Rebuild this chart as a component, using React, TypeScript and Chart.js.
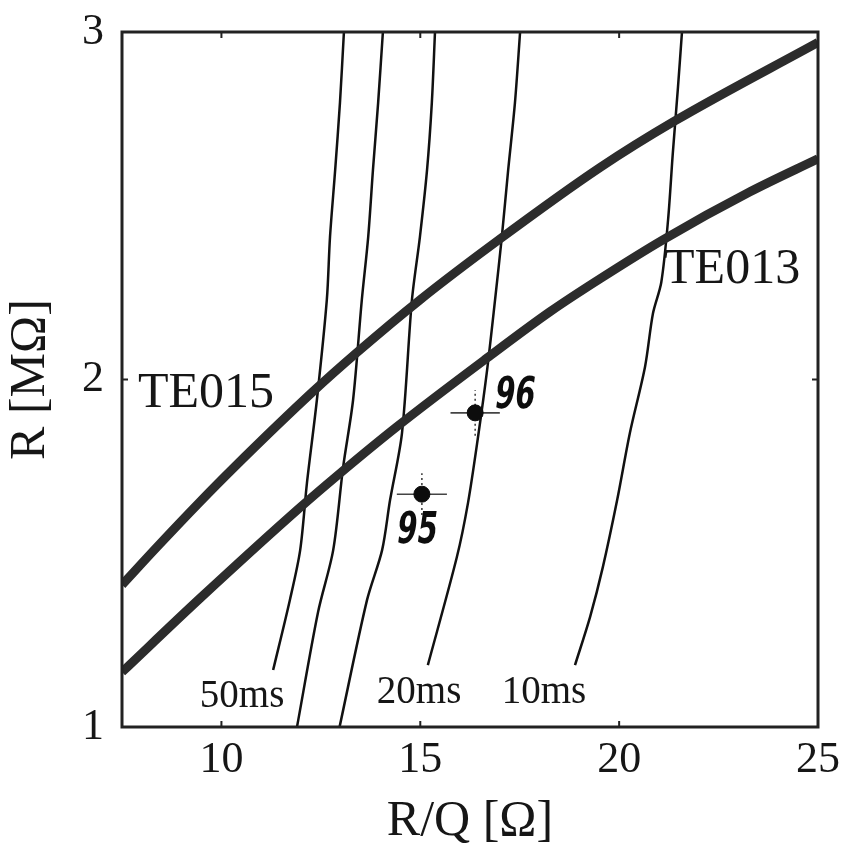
import React, { useEffect, useRef } from 'react';
import { Chart, registerables } from 'chart.js';

Chart.register(...registerables);

// ---- axis ticks ----
const X_TICKS = [10, 15, 20, 25];
const Y_TICKS = [1, 2, 3];

// ---- thick mode curves ----
const TE015_X = [7.5, 8.38, 9.46, 10.29, 12.30, 13.41, 14.99, 16.95, 19.52, 21.40, 25.0];
const TE015_Y = [1.409, 1.518, 1.648, 1.744, 1.965, 2.078, 2.229, 2.400, 2.610, 2.744, 2.97];

const TE013_X = [7.5, 9.46, 11.98, 12.98, 14.41, 16.68, 18.26, 19.52, 21.10, 23.29, 25.0];
const TE013_Y = [1.158, 1.370, 1.632, 1.730, 1.864, 2.062, 2.195, 2.290, 2.402, 2.540, 2.635];

// ---- thin time-constant curves ----
const T50_X = [13.08, 12.98, 12.86, 12.73, 12.65, 12.40, 12.15, 11.98, 11.72, 11.30];
const T50_Y = [3.0, 2.796, 2.603, 2.410, 2.229, 1.941, 1.702, 1.509, 1.365, 1.164];

const T40_X = [14.06, 13.94, 13.81, 13.69, 13.53, 13.31, 13.06, 12.81, 12.43, 11.90];
const T40_Y = [3.0, 2.796, 2.603, 2.410, 2.229, 1.941, 1.748, 1.509, 1.331, 1.0];

const T30_X = [15.37, 15.29, 15.17, 14.99, 14.79, 14.54, 14.24, 14.04, 13.66, 12.97];
const T30_Y = [3.0, 2.796, 2.603, 2.410, 2.229, 1.846, 1.653, 1.509, 1.365, 1.0];

const T20_X = [17.51, 17.38, 17.21, 17.05, 16.88, 16.68, 16.45, 16.20, 15.92, 15.19];
const T20_Y = [3.0, 2.796, 2.603, 2.410, 2.229, 2.027, 1.833, 1.645, 1.489, 1.178];

const T10_X = [21.58, 21.48, 21.35, 21.23, 21.06, 20.85, 20.65, 20.27, 19.95, 19.59, 19.27, 18.89];
const T10_Y = [3.0, 2.842, 2.652, 2.459, 2.28, 2.19, 2.036, 1.846, 1.653, 1.460, 1.317, 1.178];

// ---- measured points ----
const POINT_NAMES = ['95', '96'];
const POINT_X = [15.04, 16.38];
const POINT_Y = [1.670, 1.904];
const POINT_XERR = [0.63, 0.62];
const POINT_YERR = [0.06, 0.066];
const POINT_LABEL_X = [14.92, 17.38];
const POINT_LABEL_Y = [1.561, 1.950];

// ---- curve labels ----
const LABELS = ['TE015', 'TE013', '50ms', '20ms', '10ms'];
const LABEL_X = [9.61, 22.84, 10.52, 14.97, 18.11];
const LABEL_Y = [1.958, 2.315, 1.086, 1.098, 1.098];

const SERIF = "'Liberation Serif', 'Times New Roman', serif";
const INK = '#161616';

const zip = (xs: number[], ys: number[]) => xs.map((x, i) => ({ x, y: ys[i] }));

const overlay = {
  id: 'overlay',
  beforeDraw(chart: any) {
    const ctx = chart.ctx;
    ctx.save();
    ctx.fillStyle = '#ffffff';
    ctx.fillRect(0, 0, chart.width, chart.height);
    ctx.restore();
  },
  beforeDatasetsDraw(chart: any) {
    const ctx = chart.ctx;
    const xs = chart.scales.x;
    const ys = chart.scales.y;
    ctx.save();
    ctx.strokeStyle = '#444';
    ctx.lineWidth = 1.6;
    POINT_X.forEach((px, i) => {
      const cx = xs.getPixelForValue(px);
      const cy = ys.getPixelForValue(POINT_Y[i]);
      const x0 = xs.getPixelForValue(px - POINT_XERR[i]);
      const x1 = xs.getPixelForValue(px + POINT_XERR[i]);
      const y0 = ys.getPixelForValue(POINT_Y[i] - POINT_YERR[i]);
      const y1 = ys.getPixelForValue(POINT_Y[i] + POINT_YERR[i]);
      ctx.beginPath();
      ctx.moveTo(x0, cy);
      ctx.lineTo(x1, cy);
      ctx.stroke();
      ctx.setLineDash([2, 3]);
      ctx.beginPath();
      ctx.moveTo(cx, y0);
      ctx.lineTo(cx, y1);
      ctx.stroke();
      ctx.setLineDash([]);
    });
    ctx.restore();
  },
  afterDatasetsDraw(chart: any) {
    const ctx = chart.ctx;
    const { left, right, top, bottom } = chart.chartArea;
    const xs = chart.scales.x;
    const ys = chart.scales.y;
    ctx.save();
    // frame
    ctx.strokeStyle = '#222';
    ctx.lineWidth = 3;
    ctx.strokeRect(left, top, right - left, bottom - top);
    // inward tick marks
    ctx.lineWidth = 2;
    X_TICKS.forEach((v) => {
      const p = xs.getPixelForValue(v);
      ctx.beginPath();
      ctx.moveTo(p, top);
      ctx.lineTo(p, top + 6);
      ctx.moveTo(p, bottom);
      ctx.lineTo(p, bottom - 6);
      ctx.stroke();
    });
    Y_TICKS.forEach((v) => {
      const p = ys.getPixelForValue(v);
      ctx.beginPath();
      ctx.moveTo(left, p);
      ctx.lineTo(left + 6, p);
      ctx.moveTo(right, p);
      ctx.lineTo(right - 6, p);
      ctx.stroke();
    });
    // curve labels
    ctx.fillStyle = INK;
    ctx.textAlign = 'center';
    ctx.textBaseline = 'middle';
    LABELS.forEach((t, i) => {
      const size = t.startsWith('TE') ? 50 : 39;
      ctx.font = `${size}px ${SERIF}`;
      ctx.fillText(t, xs.getPixelForValue(LABEL_X[i]), ys.getPixelForValue(LABEL_Y[i]));
    });
    // handwritten point labels
    POINT_NAMES.forEach((t, i) => {
      ctx.save();
      ctx.translate(xs.getPixelForValue(POINT_LABEL_X[i]), ys.getPixelForValue(POINT_LABEL_Y[i]));
      ctx.transform(0.66, 0, -0.14, 1, 0, 0);
      ctx.font = `bold 44px 'DejaVu Sans', sans-serif`;
      ctx.fillStyle = '#0d0d0d';
      ctx.textAlign = 'center';
      ctx.textBaseline = 'middle';
      ctx.fillText(t, 0, 0);
      ctx.restore();
    });
    ctx.restore();
  },
};

export default function App() {
  const ref = useRef<HTMLCanvasElement>(null);

  useEffect(() => {
    const thick = (data: any) => ({
      data,
      borderColor: '#2c2c2c',
      borderWidth: 9,
      pointRadius: 0,
      showLine: true,
      cubicInterpolationMode: 'monotone' as const,
    });
    const thin = (data: any) => ({
      data,
      borderColor: '#111111',
      borderWidth: 2.5,
      pointRadius: 0,
      showLine: true,
      tension: 0.3,
    });

    const chart = new Chart(ref.current as HTMLCanvasElement, {
      type: 'scatter',
      data: {
        datasets: [
          {
            data: zip(POINT_X, POINT_Y),
            pointRadius: 8,
            pointBackgroundColor: '#0d0d0d',
            pointBorderColor: '#0d0d0d',
            showLine: false,
          } as any,
          thick(zip(TE015_X, TE015_Y)),
          thick(zip(TE013_X, TE013_Y)),
          thin(zip(T50_X, T50_Y)),
          thin(zip(T40_X, T40_Y)),
          thin(zip(T30_X, T30_Y)),
          thin(zip(T20_X, T20_Y)),
          thin(zip(T10_X, T10_Y)),
        ],
      },
      options: {
        responsive: false,
        devicePixelRatio: 1,
        animation: false,
        layout: { padding: { top: 32, right: 28, left: 0, bottom: 0 } },
        plugins: {
          legend: { display: false },
          tooltip: { enabled: false },
        },
        scales: {
          x: {
            type: 'linear',
            min: 7.5,
            max: 25,
            grid: { display: false, drawTicks: false },
            border: { display: false },
            afterBuildTicks: (s: any) => {
              s.ticks = X_TICKS.map((v) => ({ value: v }));
            },
            afterFit: (s: any) => {
              s.height = 122;
              s.paddingLeft = 0;
              s.paddingRight = 0;
            },
            ticks: {
              autoSkip: false,
              maxRotation: 0,
              padding: 7,
              color: INK,
              font: { family: SERIF, size: 44 },
            },
            title: {
              display: true,
              text: 'R/Q [Ω]',
              color: INK,
              font: { family: SERIF, size: 50, lineHeight: 1 },
              padding: { top: 0, bottom: 2 },
            },
          },
          y: {
            type: 'linear',
            min: 1,
            max: 3,
            grid: { display: false, drawTicks: false },
            border: { display: false },
            afterBuildTicks: (s: any) => {
              s.ticks = Y_TICKS.map((v) => ({ value: v }));
            },
            afterFit: (s: any) => {
              s.width = 122;
              s.paddingTop = 0;
              s.paddingBottom = 0;
            },
            ticks: {
              padding: 18,
              color: INK,
              font: { family: SERIF, size: 44 },
            },
            title: {
              display: true,
              text: 'R [MΩ]',
              color: INK,
              font: { family: SERIF, size: 50, lineHeight: 1 },
              padding: { top: 6, bottom: 0 },
            },
          },
        },
      },
      plugins: [overlay],
    } as any);

    return () => chart.destroy();
  }, []);

  return (
    <div style={{ position: 'fixed', left: 0, top: 0, width: 846, height: 849, background: '#fff' }}>
      <canvas ref={ref} width={846} height={849} style={{ display: 'block', width: 846, height: 849 }} />
    </div>
  );
}
